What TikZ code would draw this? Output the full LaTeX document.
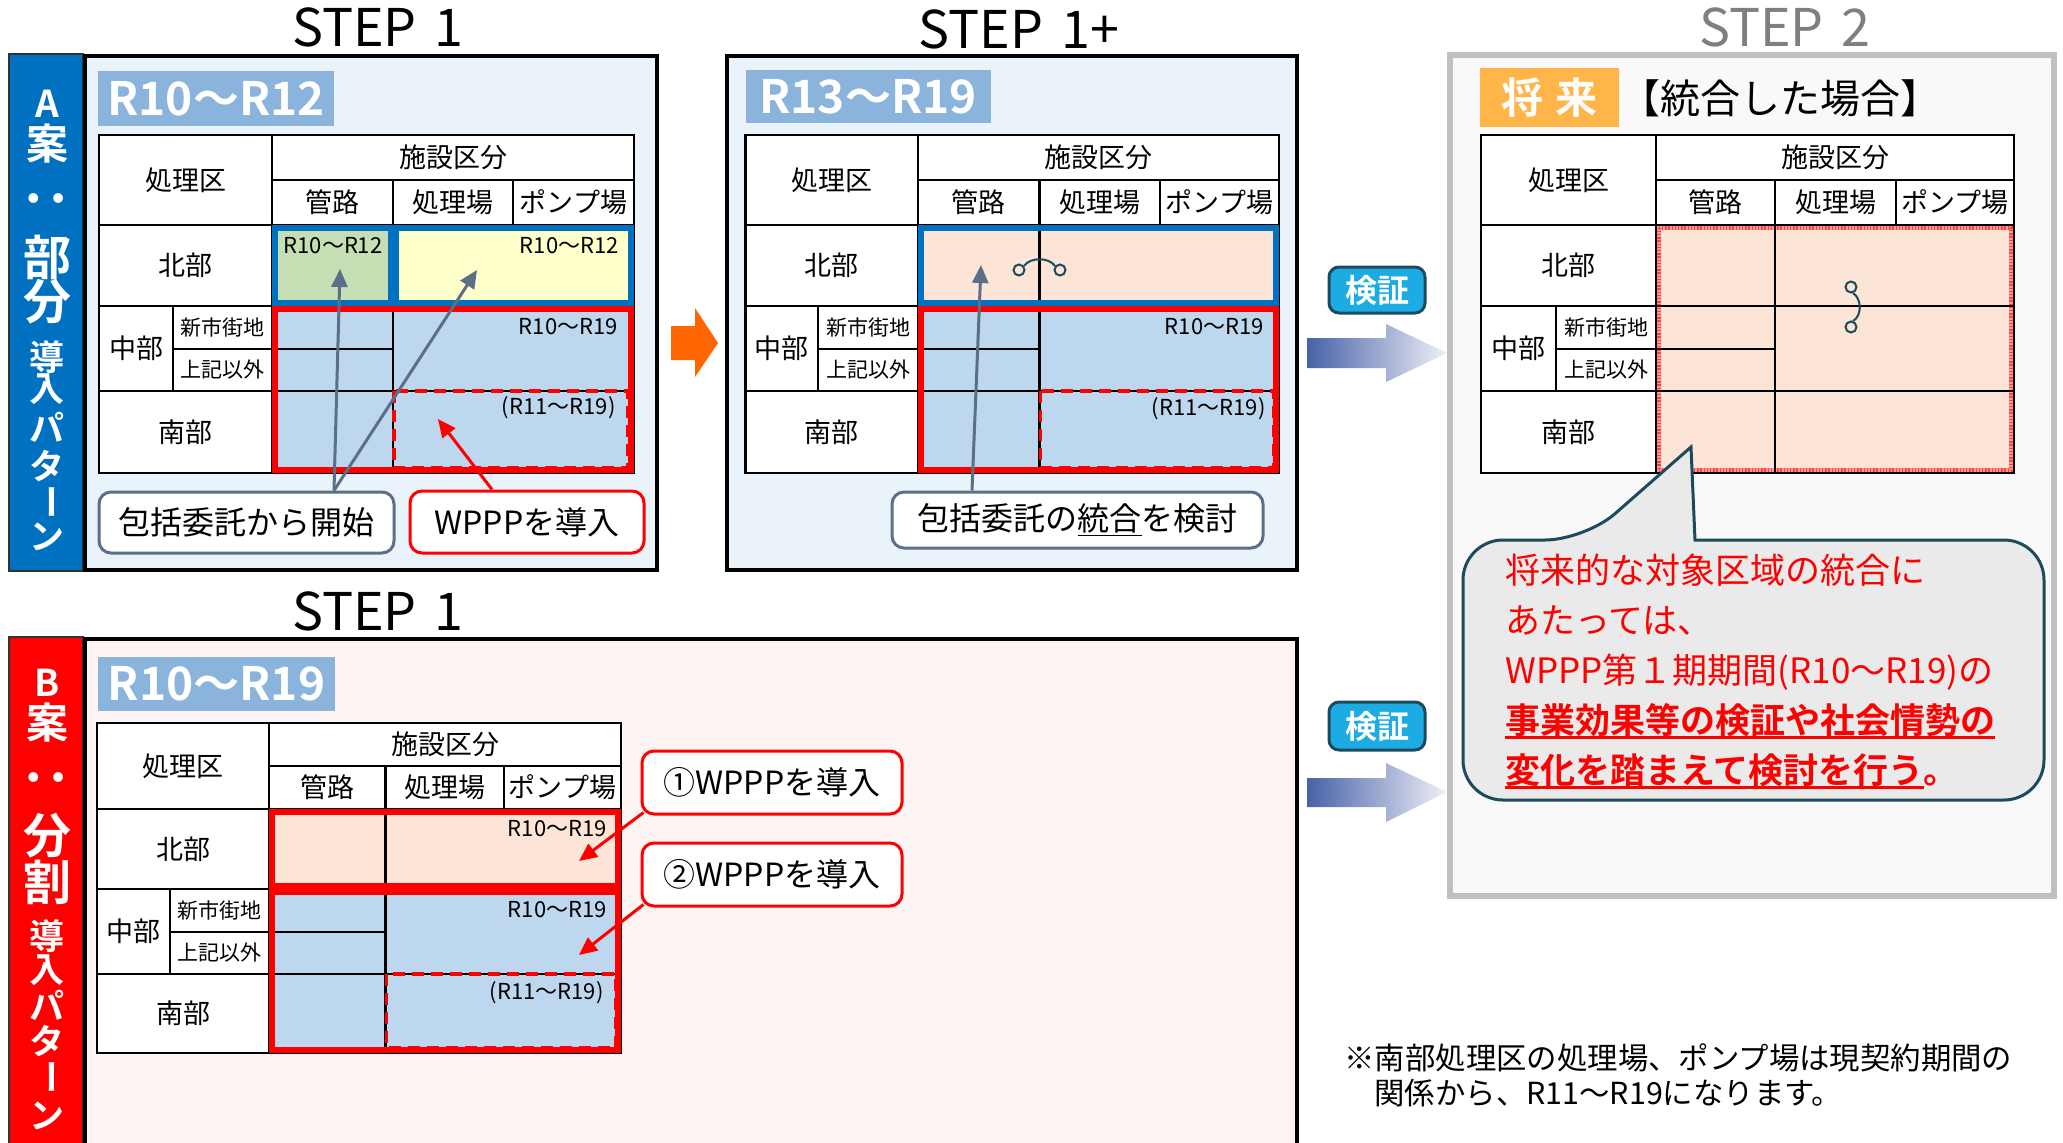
\documentclass[tikz,border=0pt]{standalone}
\usepackage{fontspec}
\setmainfont{Noto Sans CJK JP}[BoldFont={Noto Sans CJK JP Bold}]
\usetikzlibrary{arrows.meta}
\definecolor{abar}{HTML}{0070C0}
\definecolor{abox}{HTML}{EAF3FA}
\definecolor{rlbl}{HTML}{8AB4DC}
\definecolor{cgreen}{HTML}{C6DEB3}
\definecolor{cyellow}{HTML}{FFFFCC}
\definecolor{cblue}{HTML}{BDD7EE}
\definecolor{csalmon}{HTML}{FCE4D6}
\definecolor{slate}{HTML}{5B7088}
\definecolor{orng}{HTML}{FF6600}
\definecolor{bbox}{HTML}{FFF4F4}
\definecolor{gborder}{HTML}{C0C0C0}
\definecolor{gfill}{HTML}{F9F9F9}
\definecolor{gtitle}{HTML}{7F7F7F}
\definecolor{future}{HTML}{FFB547}
\definecolor{callfill}{HTML}{EAEAEA}
\definecolor{dteal}{HTML}{1C4B5E}
\definecolor{badge}{HTML}{1CACE3}
\definecolor{gradL}{HTML}{4862A8}
\definecolor{gradR}{HTML}{EEF0F8}
\definecolor{jred}{HTML}{FF0000}
\newcommand\myul[2]{\setbox0=\hbox{#2}\rlap{\rule[-2.8pt]{\wd0}{#1}}\box0}
\newcommand\tblgrid[1]{%
  \draw[tline] (\XA,\YA) rectangle (\XF,\YG);
  \draw[tline] (\XC,\YB) -- (\XF,\YB);
  \draw[tline] (\XC,\YA) -- (\XC,\YG);
  \draw[tline] (\XD,\YB) -- (\XD,\YC);
  \draw[tline] (\XE,\YB) -- (\XE,\YC);
  \draw[tline] (\XA,\YC) -- (\XF,\YC);
  \draw[tline] (\XA,\YD) -- (\XF,\YD);
  \draw[tline] (\XA,\YF) -- (\XF,\YF);
  \draw[tline] (\XB,\YD) -- (\XB,\YF);
  \draw[tline] (\XB,\YE) -- (\XD,\YE);
  \draw[tline] (\XD,\YC) -- (\XD,\YG);
  \node[ttxt] (#1-h0) at ({(\XA+\XC)/2},{(\YA+\YC)/2}) {処理区};
  \node[ttxt] (#1-h1) at ({(\XC+\XF)/2},{(\YA+\YB)/2}) {施設区分};
  \node[ttxt] (#1-h2) at ({(\XC+\XD)/2},{(\YB+\YC)/2}) {管路};
  \node[ttxt] (#1-h3) at ({(\XD+\XE)/2},{(\YB+\YC)/2}) {処理場};
  \node[ttxt] (#1-h4) at ({(\XE+\XF)/2},{(\YB+\YC)/2}) {ポンプ場};
  \node[ttxt] (#1-r1) at ({(\XA+\XC)/2},{(\YC+\YD)/2}) {北部};
  \node[ttxt] (#1-r2) at ({(\XA+\XB)/2},{(\YD+\YF)/2}) {中部};
  \node[tsmall] (#1-r2a) at ({(\XB+\XC)/2},{(\YD+\YE)/2}) {新市街地};
  \node[tsmall] (#1-r2b) at ({(\XB+\XC)/2},{(\YE+\YF)/2}) {上記以外};
  \node[ttxt] (#1-r3) at ({(\XA+\XC)/2},{(\YF+\YG)/2}) {南部};
}
\begin{document}
\begin{tikzpicture}[x=0.5pt,y=-0.5pt,
  tline/.style={line width=1.25pt,draw=black},
  ttxt/.style={inner sep=0pt,font=\fontsize{13.5}{16}\selectfont},
  tsmall/.style={inner sep=0pt,font=\fontsize{10.5}{12}\selectfont},
  clab/.style={inner sep=0pt,anchor=base east,font=\fontsize{11}{13}\selectfont},
  steptitle/.style={inner sep=0pt,anchor=base,font=\fontsize{26}{30}\selectfont},
  rlabel/.style={fill=rlbl,text=white,inner sep=0pt,font=\bfseries\fontsize{23}{26}\selectfont},
  blueframe/.style={draw=abar,line width=2.75pt},
  redframe/.style={draw=jred,line width=2.75pt},
  reddash/.style={draw=jred,line width=1.6pt,dash pattern=on 6pt off 3.5pt},
  callbox/.style={rounded corners=6pt,fill=white,line width=1.5pt,inner sep=0pt,font=\fontsize{16}{18}\selectfont},
  slatearrow/.style={draw=slate,line width=1.5pt,-{Triangle[length=9pt,width=8pt]}},
  redarrow/.style={draw=jred,line width=1.5pt,-{Triangle[length=9pt,width=8pt]}},
  bchar/.style={text=white,inner sep=0pt},
  fA/.style={font=\bfseries\fontsize{18.5}{20}\selectfont},
  fK/.style={font=\bfseries\fontsize{21}{22}\selectfont},
  fB/.style={font=\bfseries\fontsize{24}{26}\selectfont},
  fS/.style={font=\bfseries\fontsize{17.5}{19}\selectfont},
  calltxt/.style={anchor=base west,inner sep=0pt,text=jred,font=\fontsize{17.5}{20}\selectfont},
  badgebox/.style={fill=badge,draw=dteal,line width=1.5pt,rounded corners=5pt,text=white,inner sep=0pt,font=\bfseries\fontsize{16}{18}\selectfont},
  fnote/.style={anchor=base west,inner sep=0pt,font=\fontsize{15.2}{18}\selectfont},
]
\useasboundingbox (0,0) rectangle (2063,1142);
\fill[white] (0,0) rectangle (2063,1142);

%================ A: STEP 1 ================
\node[steptitle] (tA) at (378,46) {STEP\hspace{0.35em}1};
\draw[fill=abar,draw=black!80,line width=1pt] (9,54) rectangle (83,571);
\draw[fill=abox,line width=1.75pt] (85,56) rectangle (657,570);
\node[bchar,fA] (av1) at (47,104) {A};
\node[bchar,fK] (av2) at (47,144) {案};
\node[bchar,font=\bfseries\fontsize{26}{26}\selectfont,rotate=90] (av3) at (47,198) {：};
\node[bchar,fB] (av4) at (48,257) {部};
\node[bchar,fB] (av5) at (48,302) {分};
\node[bchar,fS] (av6) at (47,357) {導};
\node[bchar,fS] (av7) at (47,389) {入};
\node[bchar,fS] (av8) at (47,427) {パ};
\node[bchar,fS] (av9) at (47,466) {タ};
\node[bchar,fS,rotate=-90] (av10) at (47,502) {ー};
\node[bchar,fS] (av11) at (47,537) {ン};
\node[rlabel,minimum width=118pt,minimum height=27.5pt] (lA) at (216,98.5) {R10～R12};

\def\XA{99}\def\XB{173}\def\XC{272}\def\XD{393}\def\XE{513}\def\XF{634}
\def\YA{135}\def\YB{180}\def\YC{225}\def\YD{306}\def\YE{349}\def\YF{391}\def\YG{473}
\fill[white] (\XA,\YA) rectangle (\XF,\YG);
\fill[cgreen] (\XC,\YC) rectangle (\XD,\YD);
\fill[cyellow] (\XD,\YC) rectangle (\XF,\YD);
\fill[cblue] (\XC,\YD) rectangle (\XF,\YG);
\tblgrid{a}
\draw[blueframe] (275,228) rectangle (390.5,303);
\draw[blueframe] (396,228) rectangle (631,303);
\draw[redframe] (275,309) rectangle (631,470);
\draw[reddash] (394,391) rectangle (628,468);
\node[clab,anchor=base] (a-c1) at (333,253) {R10～R12};
\node[clab] (a-c2) at (619,253) {R10～R12};
\node[clab] (a-c3) at (618,334) {R10～R19};
\node[clab] (a-c4) at (616,414) {(R11～R19)};

\node[callbox,draw=slate,minimum width=147.5pt,minimum height=30.5pt] (a-box1) at (246.5,522.5) {包括委託から開始};
\node[callbox,draw=jred,minimum width=117pt,minimum height=31pt] (a-box2) at (527,522) {WPPPを導入};
\coordinate (a-tip1) at (340,269);
\coordinate (a-tip2) at (477,270);
\coordinate (a-tip3) at (438,419);
\draw[slatearrow] ([xshift=43.75pt]a-box1.north) -- (a-tip1);
\draw[slatearrow] ([xshift=43.75pt]a-box1.north) -- (a-tip2);
\draw[redarrow] ([xshift=-17.5pt]a-box2.north) -- (a-tip3);

% orange arrow
\fill[orng] (671,326) -- (695,326) -- (695,308) -- (718,343) -- (695,377) -- (695,360) -- (671,360) -- cycle;

%================ STEP 1+ ================
\node[steptitle] (tP) at (1019,48) {STEP\hspace{0.35em}1+};
\draw[fill=abox,line width=1.75pt] (727,56) rectangle (1297,570);
\node[rlabel,minimum width=122.5pt,minimum height=26.5pt] (lP) at (868,96.5) {R13～R19};
\def\XA{745.5}\def\XB{818}\def\XC{918}\def\XD{1039.5}\def\XE{1160}\def\XF{1279}
\fill[white] (\XA,\YA) rectangle (\XF,\YG);
\fill[csalmon] (\XC,\YC) rectangle (\XF,\YD);
\fill[cblue] (\XC,\YD) rectangle (\XF,\YG);
\tblgrid{p}
\draw[blueframe] (921,228) rectangle (1276,303);
\draw[redframe] (921,309) rectangle (1276,470);
\draw[reddash] (1040.5,391) rectangle (1274,468);
\node[clab] (p-c3) at (1264,334) {R10～R19};
\node[clab] (p-c4) at (1266,415) {(R11～R19)};
\draw[dteal,line width=1pt] (1024,266) .. controls (1030,257) and (1049,257) .. (1055,266);
\draw[dteal,line width=1pt,fill=csalmon] (1019,270) circle (5.5);
\draw[dteal,line width=1pt,fill=csalmon] (1060,270) circle (5.5);
\node[callbox,draw=slate,minimum width=185.5pt,minimum height=28pt] (p-box1) at (1077.5,520) {包括委託の\myul{0.7pt}{統合}を検討};
\coordinate (p-tip1) at (981,265);
\draw[slatearrow] ([xshift=-52.75pt]p-box1.north) -- (p-tip1);

%================ STEP 2 ================
\node[steptitle,text=gtitle] (t2) at (1785,46) {STEP\hspace{0.35em}2};
\draw[fill=gfill,draw=gborder,line width=3pt] (1450,55) rectangle (2054,896);
\node[fill=future,text=white,inner sep=0pt,minimum width=69.5pt,minimum height=29.5pt,font=\bfseries\fontsize{21}{22}\selectfont] (fut) at (1549.5,97.5) {将\hspace{0.3em}来};
\node[inner sep=0pt,font=\fontsize{20}{22}\selectfont] (fut2) at (1780,98) {【統合した場合】};
\def\XA{1481}\def\XB{1556}\def\XC{1656}\def\XD{1775}\def\XE{1896}\def\XF{2014}
\fill[white] (\XA,\YA) rectangle (\XF,\YG);
\fill[csalmon] (\XC,\YC) rectangle (\XF,\YG);
\draw[draw=jred!40,line width=2.5pt] (1658.5,227.5) rectangle (2011.5,470.5);
\draw[draw=jred!75,line width=2.5pt,dash pattern=on 0.7pt off 0.9pt] (1658.5,227.5) rectangle (2011.5,470.5);
\tblgrid{s}
\draw[dteal,line width=1pt] (1853,293) .. controls (1862,299) and (1862,316) .. (1853,321);
\draw[dteal,line width=1pt,fill=csalmon] (1851,287) circle (5.5);
\draw[dteal,line width=1pt,fill=csalmon] (1851,327) circle (5.5);

% callout
\draw[fill=callfill,draw=dteal,line width=1.5pt]
  (1463,670) [rounded corners=20pt] -- (1463,540) -- (1585,540) [sharp corners] -- (1691,447) -- (1695,540) [rounded corners=20pt] -- (2044,540) -- (2044,800) -- (1463,800) -- cycle;
\node[calltxt] (cl1) at (1505,583) {将来的な対象区域の統合に};
\node[calltxt] (cl2) at (1505,633) {あたっては、};
\node[calltxt] (cl3) at (1505,683) {WPPP第１期期間(R10～R19)の};
\node[calltxt,font=\bfseries\fontsize{17.5}{20}\selectfont] (cl4) at (1505,733) {\myul{1.2pt}{事業効果等の検証や社会情勢の}};
\node[calltxt,font=\bfseries\fontsize{17.5}{20}\selectfont] (cl5) at (1505,783) {\myul{1.2pt}{変化を踏まえて検討を行う}。};

% verification badges and arrows
\node[badgebox,minimum width=48pt,minimum height=23pt] (v1) at (1377,290) {検証};
\node[badgebox,minimum width=48pt,minimum height=24pt] (v2) at (1377,726) {検証};
\shade[left color=gradL,right color=gradR] (1307,338) -- (1386,338) -- (1386,324) -- (1447,353) -- (1386,382) -- (1386,368) -- (1307,368) -- cycle;
\shade[left color=gradL,right color=gradR] (1307,778) -- (1386,778) -- (1386,763) -- (1447,792) -- (1386,822) -- (1386,807) -- (1307,807) -- cycle;

%================ B: STEP 1 ================
\node[steptitle] (tB) at (378,630) {STEP\hspace{0.35em}1};
\draw[fill=jred,draw=black!80,line width=1pt] (9,637) rectangle (83,1160);
\draw[fill=bbox,line width=1.75pt] (85,639) rectangle (1297,1170);
\node[bchar,fA] (bv1) at (47,683) {B};
\node[bchar,fK] (bv2) at (47,723) {案};
\node[bchar,font=\bfseries\fontsize{26}{26}\selectfont,rotate=90] (bv3) at (47,777) {：};
\node[bchar,fB] (bv4) at (48,836) {分};
\node[bchar,fB] (bv5) at (48,882) {割};
\node[bchar,fS] (bv6) at (47,936) {導};
\node[bchar,fS] (bv7) at (47,970) {入};
\node[bchar,fS] (bv8) at (47,1005) {パ};
\node[bchar,fS] (bv9) at (47,1041) {タ};
\node[bchar,fS,rotate=-90] (bv10) at (47,1077) {ー};
\node[bchar,fS] (bv11) at (47,1116) {ン};
\node[rlabel,minimum width=118.5pt,minimum height=27.25pt] (lB) at (216.5,684) {R10～R19};
\def\XA{97}\def\XB{170}\def\XC{269}\def\XD{385.5}\def\XE{504}\def\XF{621}
\def\YA{723}\def\YB{766}\def\YC{809}\def\YD{889}\def\YE{932}\def\YF{974}\def\YG{1053}
\fill[white] (\XA,\YA) rectangle (\XF,\YG);
\fill[csalmon] (\XC,\YC) rectangle (\XF,\YD);
\fill[cblue] (\XC,\YD) rectangle (\XF,\YG);
\tblgrid{b}
\draw[redframe] (272,812) rectangle (618,886);
\draw[redframe] (272,892) rectangle (618,1050);
\draw[reddash] (386.5,974) rectangle (616,1048);
\node[clab] (b-c1) at (607,836) {R10～R19};
\node[clab] (b-c2) at (607,917) {R10～R19};
\node[clab] (b-c3) at (604,999) {(R11～R19)};
\node[callbox,draw=jred,minimum width=130pt,minimum height=31.5pt] (b-box1) at (772,782.5) {①WPPPを導入};
\node[callbox,draw=jred,minimum width=130pt,minimum height=31.5pt] (b-box2) at (772,874.5) {②WPPPを導入};
\coordinate (b-tip1) at (579,861);
\coordinate (b-tip2) at (579,955);
\draw[redarrow] ([xshift=1.5pt,yshift=1.5pt]b-box1.south west) -- (b-tip1);
\draw[redarrow] ([xshift=1.5pt,yshift=1.5pt]b-box2.south west) -- (b-tip2);

% footnote
\node[fnote] (fn1) at (1344,1069) {※南部処理区の処理場、ポンプ場は現契約期間の};
\node[fnote] (fn2) at (1374,1104) {関係から、R11～R19になります。};
\end{tikzpicture}
\end{document}
